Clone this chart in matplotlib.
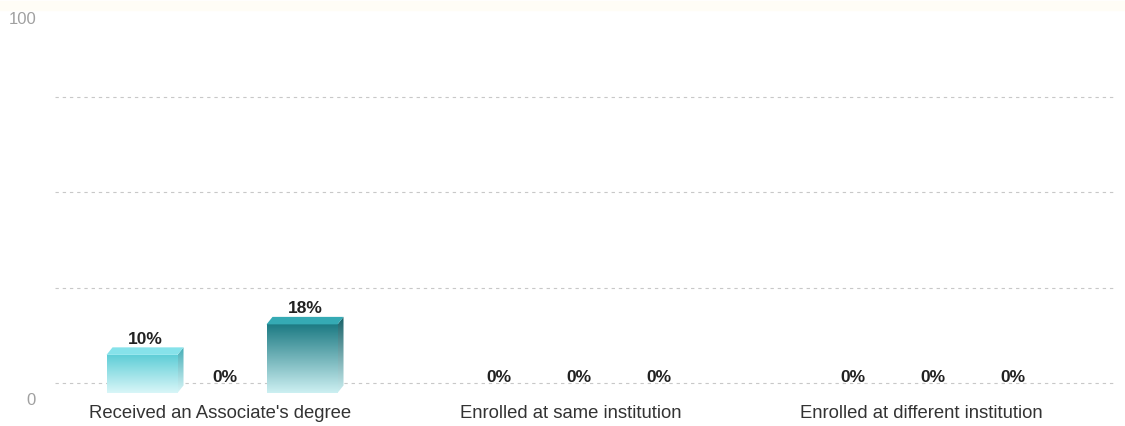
import numpy as np
import matplotlib
matplotlib.use("Agg")
import matplotlib.pyplot as plt
from matplotlib.patches import Polygon
from matplotlib.colors import LinearSegmentedColormap
from matplotlib.transforms import offset_copy

# Chart data
categories = ["Received an Associate's degree",
              "Enrolled at same institution",
              "Enrolled at different institution"]
series_a = [10, 0, 0]
series_b = [0, 0, 0]
series_c = [18, 0, 0]
y_ticks = [0, 100]
grid_levels = [0, 25, 50, 75]

W, H = 1125, 426
fig = plt.figure(figsize=(W / 100, H / 100), dpi=100)
fig.patch.set_facecolor("white")

# axes spans x 55..1115 px, y 2..402 px
ax = fig.add_axes([55 / W, 24 / H, 1060 / W, 400 / H])
ax.set_xlim(-0.4718, 2.5226)
ax.set_ylim(-5, 100)
ax.axis("off")

px_x = 354.0      # pixels per category step
px_y = 3.81       # pixels per percentage point
front_base = -10 / px_y   # front face sits a little in front of the floor
dx = 6 / px_x
dy = 7.5 / px_y
bar_w = 71 / px_x
offsets = [-80 / px_x, 0.0, 80 / px_x]

# gridlines
for g in grid_levels:
    ax.plot([-0.4718, 2.5226], [g, g], color="#c8c8c8", lw=0.8,
            dashes=(3, 3.5), zorder=1)
# faint top border band
fig.patches.append(plt.Rectangle((0, 1 - 10 / H), 1, 9 / H,
                                 transform=fig.transFigure,
                                 color="#fffdf6", zorder=0))

styles = [
    dict(top="#5ccdd6", bottom="#d9f6f8", side="#45adb6", lid="#86e2ea"),
    dict(top="#5ccdd6", bottom="#d9f6f8", side="#45adb6", lid="#86e2ea"),
    dict(top="#1c7a83", bottom="#cdf0f2", side="#165f66", lid="#35aab4"),
]
series = [series_a, series_b, series_c]


def gradient_face(verts, c_top, c_bot, y0, y1, x0, x1, z):
    poly = Polygon(verts, closed=True, facecolor="none", edgecolor="none")
    ax.add_patch(poly)
    cmap = LinearSegmentedColormap.from_list("g", [c_bot, c_top])
    grad = np.linspace(0, 1, 256).reshape(-1, 1)
    im = ax.imshow(grad, cmap=cmap, aspect="auto", origin="lower",
                   extent=[x0, x1, y0, y1], zorder=z, interpolation="bilinear")
    im.set_clip_path(poly)


for si, vals in enumerate(series):
    st = styles[si]
    for ci, v in enumerate(vals):
        xc = ci + offsets[si]
        x0, x1 = xc - bar_w / 2, xc + bar_w / 2
        yb = front_base
        yt = front_base + v
        if v > 0:
            # front face
            gradient_face([(x0, yb), (x1, yb), (x1, yt), (x0, yt)],
                          st["top"], st["bottom"], yb, yt, x0, x1, 3)
            # side face
            gradient_face([(x1, yb), (x1 + dx, yb + dy), (x1 + dx, yt + dy), (x1, yt)],
                          st["side"], st["bottom"], yb, yt + dy, x1, x1 + dx, 3)
            # top face
            ax.add_patch(Polygon([(x0, yt), (x1, yt), (x1 + dx, yt + dy), (x0 + dx, yt + dy)],
                                 closed=True, facecolor=st["lid"], edgecolor="none",
                                 zorder=4))
        tr = offset_copy(ax.transData, fig=fig, x=0, y=2.6, units="points")
        ax.text(xc + dx / 2, yt + dy, f"{v}%", transform=tr, ha="center",
                va="baseline", fontsize=12.5, fontweight="bold",
                color="#222222", family="Liberation Sans", zorder=5)

# category labels (slightly tighter spacing than the bar groups)
label_step = 350.5 / px_x
label_start = -2 / px_x
for ci, name in enumerate(categories):
    ax.text(label_start + ci * label_step, -8.1, name, ha="center", va="center",
            fontsize=13.3, color="#333333", family="Liberation Sans")

# y tick labels, placed just below their levels
for t in y_ticks:
    tr = offset_copy(ax.transData, fig=fig, x=0, y=-12.3, units="points")
    ax.text(-0.4718 - 19 / px_x, t, str(t), transform=tr, ha="right",
            va="center", fontsize=12, color="#a0a0a0", family="Liberation Sans")

fig.savefig("out.png", dpi=100, facecolor="white")
